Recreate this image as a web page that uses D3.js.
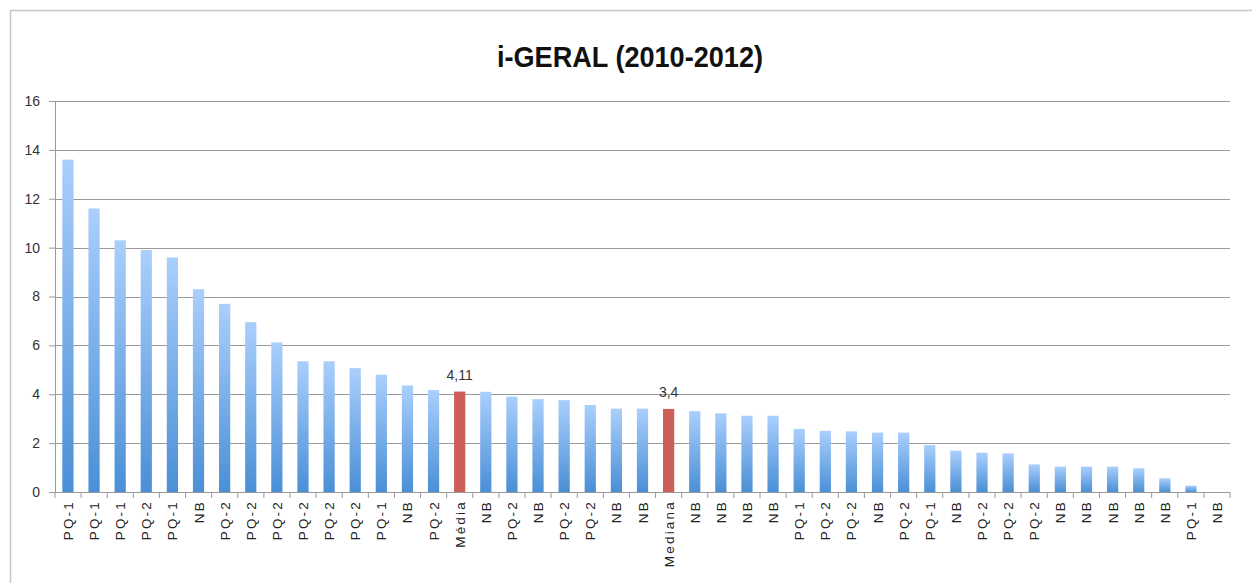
<!DOCTYPE html>
<html>
<head>
<meta charset="utf-8">
<script src="https://cdn.jsdelivr.net/npm/d3@7"></script>
<style>
  body { margin: 0; background: #fff; }
  svg { display: block; }
</style>
</head>
<body>
<div id="chartRegion"></div>
<script>
/* data */
var categories = ["PQ-1","PQ-1","PQ-1","PQ-2","PQ-1","NB","PQ-2","PQ-2","PQ-2","PQ-2","PQ-2","PQ-2","PQ-1","NB","PQ-2",
  "Média","NB","PQ-2","NB","PQ-2","PQ-2","NB","NB","Mediana","NB","NB","NB","NB","PQ-1","PQ-2",
  "PQ-2","NB","PQ-2","PQ-1","NB","PQ-2","PQ-2","PQ-2","NB","NB","NB","NB","NB","PQ-1","NB"];
var values = [13.6,11.6,10.3,9.9,9.6,8.3,7.7,6.95,6.12,5.35,5.35,5.07,4.8,4.36,4.17,
  4.11,4.1,3.9,3.8,3.76,3.56,3.41,3.41,3.4,3.31,3.22,3.12,3.12,2.58,2.5,
  2.48,2.43,2.43,1.92,1.69,1.61,1.58,1.13,1.04,1.04,1.04,0.97,0.56,0.26,0];
var highlight = ["Média","Mediana"];
var labelText = {"Média": "4,11", "Mediana": "3,4"};
var yTicks = [0,2,4,6,8,10,12,14,16];
var title = "i-GERAL (2010-2012)";

function plotChart() {
  var W = 1252, H = 583;
  var m = {left: 55, right: 22, top: 101, bottom: 91};

  var svg = d3.select("#chartRegion").append("svg").attr("width", W).attr("height", H);

  // frame
  svg.append("rect").attr("x", 10.5).attr("y", 10.5).attr("width", 1250).attr("height", 600)
    .attr("fill", "#fff").attr("stroke", "#c8c8c8").attr("stroke-width", 1.5);

  var defs = svg.append("defs");
  var grad = defs.append("linearGradient").attr("id", "blueGrad")
    .attr("x1", 0).attr("y1", 0).attr("x2", 0).attr("y2", 1);
  grad.append("stop").attr("offset", "0%").attr("stop-color", "#aacffc");
  grad.append("stop").attr("offset", "100%").attr("stop-color", "#4a8fd6");

  var x = d3.scaleBand().domain(d3.range(categories.length))
    .range([m.left, W - m.right]).paddingInner(0.57).paddingOuter(0.28);
  var y = d3.scaleLinear().domain([0, 16]).range([H - m.bottom, m.top]);

  // gridlines
  svg.append("g").selectAll("line").data(yTicks.slice(1)).enter().append("line")
    .attr("x1", m.left).attr("x2", W - m.right)
    .attr("y1", function(d) { return Math.round(y(d)) + 0.5; })
    .attr("y2", function(d) { return Math.round(y(d)) + 0.5; })
    .attr("stroke", "#9a9a9a").attr("stroke-width", 1.2);

  // y axis
  var yAxis = d3.axisLeft(y).tickValues(yTicks).tickSize(6).tickPadding(9);
  var gy = svg.append("g").attr("transform", "translate(" + m.left + ",0)").call(yAxis);
  gy.select(".domain").attr("stroke", "#9a9a9a");
  gy.selectAll(".tick line").attr("stroke", "#9a9a9a");
  gy.selectAll("text").attr("font-family", "'Liberation Sans', Arial")
    .attr("font-size", 14).attr("fill", "#333");

  // bars
  svg.append("g").selectAll("rect").data(values).enter().append("rect")
    .attr("x", function(d, i) { return x(i); })
    .attr("width", x.bandwidth())
    .attr("y", function(d) { return y(d); })
    .attr("height", function(d) { return y(0) - y(d); })
    .attr("fill", function(d, i) {
      return highlight.indexOf(categories[i]) >= 0 ? "#cd5f58" : "url(#blueGrad)";
    });

  // value labels on highlighted bars
  svg.append("g").selectAll("text").data(values.map(function(v, i) { return {v: v, i: i}; })
      .filter(function(d) { return labelText[categories[d.i]]; }))
    .enter().append("text")
    .attr("x", function(d) { return x(d.i) + x.bandwidth() / 2; })
    .attr("y", function(d) { return y(d.v) - 12; })
    .attr("text-anchor", "middle")
    .attr("font-family", "'Liberation Sans', Arial")
    .attr("font-size", 14).attr("fill", "#333")
    .text(function(d) { return labelText[categories[d.i]]; });

  // x axis line + boundary ticks
  var x0 = y(0);
  svg.append("line").attr("x1", m.left).attr("x2", W - m.right)
    .attr("y1", x0 + 0.5).attr("y2", x0 + 0.5).attr("stroke", "#9a9a9a").attr("stroke-width", 1.2);
  svg.append("g").selectAll("line").data(d3.range(categories.length + 1)).enter().append("line")
    .attr("x1", function(i) { return m.left + i * (W - m.right - m.left) / categories.length; })
    .attr("x2", function(i) { return m.left + i * (W - m.right - m.left) / categories.length; })
    .attr("y1", x0).attr("y2", x0 + 6).attr("stroke", "#9a9a9a");

  // category labels, rotated
  svg.append("g").selectAll("text").data(categories).enter().append("text")
    .attr("transform", function(d, i) {
      return "translate(" + (x(i) + x.bandwidth() / 2 + 5) + "," + (x0 + 8) + ") rotate(-90)";
    })
    .attr("text-anchor", "end")
    .attr("font-family", "'Liberation Sans', Arial")
    .attr("font-size", 13.5).attr("letter-spacing", 2.2).attr("fill", "#222")
    .text(function(d) { return d; });

  // title
  svg.append("text").attr("x", 630).attr("y", 67).attr("text-anchor", "middle")
    .attr("font-family", "'Liberation Sans', Arial")
    .attr("font-weight", "bold").attr("font-size", 30).attr("fill", "#111")
    .attr("textLength", 266).attr("lengthAdjust", "spacingAndGlyphs")
    .text(title);
}

plotChart();
</script>
</body>
</html>
